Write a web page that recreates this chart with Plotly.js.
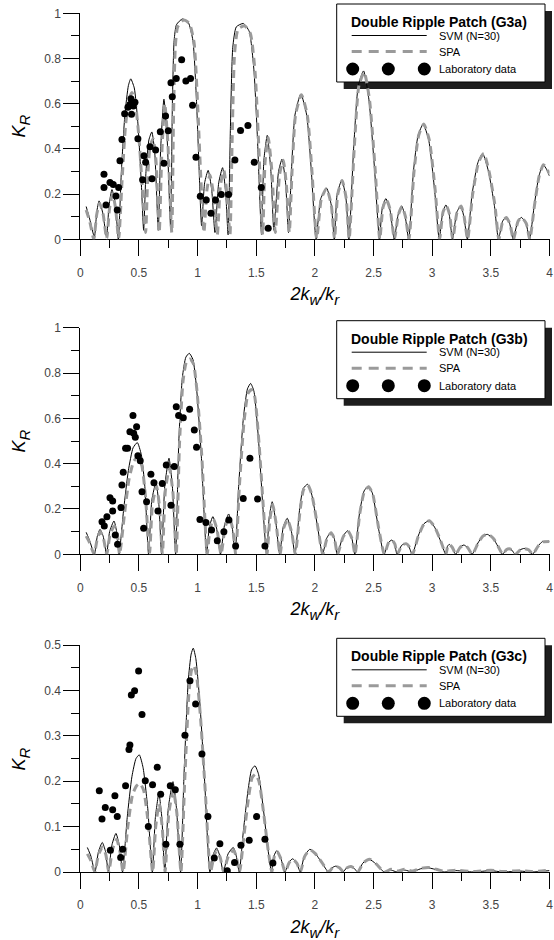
<!DOCTYPE html>
<html><head><meta charset="utf-8">
<script src="https://cdn.plot.ly/plotly-3.0.1.min.js"></script>
<style>
html,body{margin:0;padding:0;background:#fff}
#wrap{position:relative;width:554px;height:940px}
#chart{position:absolute;left:0;top:0;width:554px;height:940px}
#labels{position:absolute;left:0;top:0;width:554px;height:940px;pointer-events:none}
#labels span{position:absolute;white-space:nowrap;font-family:Arial,'Liberation Sans',sans-serif;color:#000;line-height:1}
</style>
</head><body><div id="wrap"><div id="chart"></div><div id="labels"></div></div>
<script>
// ---------- text ----------
const panelTitles = ["Double Ripple Patch (G3a)", "Double Ripple Patch (G3b)", "Double Ripple Patch (G3c)"];
const seriesNames = ["SVM (N=30)", "SPA", "Laboratory data"];
const xTitle = "<i>2k<sub>w</sub>/k<sub>r</sub></i>";
const yTitle = "<i>K<sub>R</sub></i>";

// ---------- panel (a) ----------
const svmA_x = [0.05,0.08,0.12,0.14,0.16,0.19,0.224,0.245,0.27,0.30,0.324,0.35,0.38,0.41,0.43,0.46,0.49,0.52,0.54,0.56,0.585,0.61,0.635,0.665,0.685,0.713,0.74,0.77,0.785,0.80,0.82,0.87,0.92,0.96,0.99,1.01,1.034,1.06,1.09,1.12,1.148,1.18,1.213,1.24,1.26,1.28,1.30,1.33,1.39,1.44,1.48,1.51,1.545,1.565,1.594,1.625,1.65,1.69,1.72,1.75,1.775,1.80,1.83,1.88,1.93,1.97,2.01,2.05,2.10,2.14,2.165,2.19,2.23,2.265,2.29,2.33,2.37,2.415,2.46,2.51,2.55,2.575,2.605,2.64,2.676,2.71,2.74,2.77,2.80,2.84,2.88,2.923,2.97,3.02,3.06,3.09,3.117,3.145,3.173,3.21,3.244,3.27,3.30,3.34,3.39,3.43,3.48,3.53,3.565,3.60,3.63,3.66,3.69,3.73,3.76,3.80,3.83,3.87,3.91,3.946,3.975,4.0];
const svmA_y = [0.145,0.09,0.01,0.12,0.17,0.12,0.01,0.15,0.22,0.15,0.0,0.30,0.55,0.68,0.71,0.67,0.52,0.25,0.04,0.30,0.44,0.475,0.38,0.04,0.40,0.62,0.45,0.05,0.60,0.88,0.95,0.975,0.96,0.88,0.62,0.35,0.06,0.25,0.305,0.22,0.03,0.25,0.317,0.20,0.02,0.50,0.85,0.94,0.955,0.92,0.75,0.45,0.02,0.35,0.46,0.30,0.04,0.30,0.355,0.25,0.03,0.30,0.55,0.643,0.55,0.30,0.0,0.18,0.226,0.15,0.0,0.20,0.263,0.18,0.0,0.40,0.68,0.745,0.62,0.30,0.0,0.14,0.18,0.13,0.0,0.11,0.147,0.10,0.0,0.30,0.46,0.51,0.44,0.22,0.0,0.12,0.152,0.11,0.0,0.12,0.148,0.10,0.0,0.20,0.34,0.38,0.30,0.15,0.0,0.08,0.097,0.07,0.0,0.08,0.097,0.07,0.0,0.15,0.28,0.33,0.31,0.28];
const spaA_x = [0.05,0.08,0.115,0.14,0.165,0.195,0.225,0.25,0.275,0.30,0.327,0.355,0.385,0.415,0.44,0.47,0.50,0.53,0.557,0.575,0.595,0.62,0.645,0.673,0.695,0.72,0.745,0.78,0.795,0.81,0.83,0.88,0.93,0.97,1.0,1.025,1.054,1.08,1.105,1.135,1.168,1.195,1.224,1.25,1.276,1.295,1.315,1.345,1.40,1.45,1.49,1.52,1.555,1.575,1.602,1.635,1.662,1.70,1.73,1.757,1.782,1.805,1.835,1.885,1.935,1.975,2.015,2.055,2.10,2.14,2.167,2.195,2.232,2.267,2.292,2.335,2.375,2.42,2.465,2.515,2.553,2.58,2.608,2.642,2.678,2.712,2.742,2.772,2.802,2.845,2.885,2.928,2.975,3.025,3.063,3.092,3.12,3.148,3.175,3.212,3.246,3.272,3.302,3.345,3.395,3.44,3.485,3.535,3.568,3.602,3.632,3.662,3.692,3.732,3.762,3.802,3.832,3.872,3.912,3.948,3.975,4.0];
const spaA_y = [0.13,0.08,0.0,0.11,0.16,0.11,0.0,0.14,0.20,0.14,0.0,0.25,0.50,0.62,0.65,0.60,0.45,0.22,0.03,0.28,0.41,0.445,0.35,0.03,0.38,0.60,0.44,0.03,0.55,0.85,0.94,0.97,0.955,0.87,0.60,0.30,0.03,0.22,0.285,0.20,0.02,0.24,0.305,0.20,0.02,0.45,0.82,0.93,0.945,0.91,0.74,0.43,0.02,0.34,0.45,0.29,0.03,0.29,0.35,0.24,0.03,0.30,0.55,0.64,0.55,0.30,0.0,0.18,0.225,0.15,0.0,0.20,0.26,0.18,0.0,0.40,0.68,0.74,0.62,0.30,0.0,0.14,0.178,0.13,0.0,0.11,0.145,0.10,0.0,0.30,0.46,0.51,0.44,0.22,0.0,0.12,0.15,0.11,0.0,0.12,0.147,0.10,0.0,0.20,0.34,0.38,0.30,0.15,0.0,0.08,0.096,0.07,0.0,0.08,0.096,0.07,0.0,0.15,0.28,0.33,0.315,0.29];
const labA_x = [0.202,0.202,0.219,0.253,0.281,0.304,0.315,0.327,0.338,0.355,0.378,0.406,0.423,0.432,0.437,0.452,0.466,0.491,0.531,0.543,0.557,0.594,0.611,0.642,0.682,0.713,0.727,0.75,0.773,0.784,0.818,0.864,0.90,0.94,0.957,0.986,1.023,1.074,1.114,1.153,1.202,1.264,1.318,1.366,1.429,1.483,1.543,1.602];
const labA_y = [0.288,0.229,0.152,0.251,0.243,0.192,0.13,0.229,0.348,0.442,0.555,0.584,0.596,0.622,0.553,0.59,0.606,0.445,0.263,0.37,0.341,0.41,0.268,0.395,0.476,0.336,0.546,0.48,0.693,0.631,0.712,0.794,0.70,0.711,0.593,0.363,0.19,0.174,0.115,0.174,0.198,0.198,0.351,0.481,0.503,0.341,0.229,0.049];

// ---------- panel (b) ----------
const svmB_x = [0.05,0.08,0.12,0.145,0.168,0.195,0.224,0.25,0.287,0.31,0.33,0.37,0.41,0.45,0.486,0.52,0.55,0.582,0.61,0.645,0.67,0.693,0.72,0.756,0.785,0.8125,0.84,0.87,0.90,0.929,0.96,0.99,1.03,1.077,1.10,1.13,1.16,1.195,1.23,1.265,1.295,1.32,1.35,1.39,1.425,1.452,1.48,1.52,1.555,1.588,1.61,1.636,1.665,1.70,1.73,1.764,1.80,1.83,1.87,1.90,1.9375,1.97,2.02,2.065,2.10,2.136,2.165,2.19,2.24,2.28,2.315,2.34,2.38,2.42,2.455,2.49,2.54,2.59,2.625,2.656,2.68,2.70,2.74,2.776,2.80,2.83,2.88,2.93,2.974,3.02,3.07,3.115,3.13,3.145,3.17,3.20,3.235,3.27,3.30,3.34,3.39,3.43,3.47,3.52,3.56,3.60,3.63,3.656,3.68,3.707,3.75,3.784,3.82,3.855,3.90,3.94,4.0];
const svmB_y = [0.097,0.06,0.0,0.08,0.11,0.08,0.0,0.10,0.147,0.10,0.0,0.20,0.37,0.47,0.493,0.44,0.30,0.0,0.24,0.316,0.22,0.0,0.30,0.424,0.30,0.0,0.50,0.78,0.87,0.887,0.86,0.74,0.45,0.0,0.12,0.166,0.12,0.0,0.13,0.178,0.12,0.0,0.30,0.60,0.73,0.754,0.72,0.50,0.22,0.0,0.16,0.232,0.15,0.0,0.12,0.159,0.10,0.0,0.20,0.29,0.309,0.27,0.13,0.0,0.07,0.097,0.07,0.0,0.08,0.104,0.07,0.0,0.18,0.28,0.30,0.27,0.12,0.0,0.05,0.063,0.045,0.0,0.04,0.048,0.035,0.0,0.08,0.135,0.148,0.12,0.06,0.0,0.035,0.044,0.03,0.0,0.03,0.041,0.03,0.0,0.05,0.08,0.088,0.07,0.035,0.0,0.02,0.025,0.018,0.0,0.02,0.026,0.02,0.0,0.035,0.056,0.056];
const spaB_x = [0.05,0.08,0.118,0.145,0.17,0.197,0.226,0.255,0.29,0.315,0.335,0.375,0.415,0.455,0.49,0.525,0.555,0.59,0.615,0.65,0.675,0.70,0.725,0.76,0.79,0.818,0.845,0.875,0.905,0.935,0.965,0.995,1.035,1.082,1.105,1.135,1.165,1.20,1.235,1.27,1.30,1.325,1.355,1.395,1.43,1.457,1.485,1.525,1.56,1.592,1.615,1.64,1.668,1.703,1.733,1.767,1.803,1.833,1.873,1.903,1.94,1.973,2.023,2.067,2.102,2.138,2.167,2.192,2.242,2.282,2.317,2.342,2.382,2.422,2.457,2.492,2.542,2.592,2.627,2.658,2.682,2.702,2.742,2.778,2.802,2.832,2.882,2.932,2.976,3.022,3.072,3.117,3.132,3.147,3.172,3.202,3.237,3.272,3.302,3.342,3.392,3.432,3.472,3.522,3.562,3.602,3.632,3.658,3.682,3.709,3.752,3.786,3.822,3.857,3.902,3.942,4.0];
const spaB_y = [0.08,0.05,0.0,0.07,0.10,0.07,0.0,0.09,0.125,0.09,0.0,0.17,0.33,0.41,0.43,0.39,0.26,0.0,0.22,0.30,0.21,0.0,0.28,0.38,0.27,0.0,0.48,0.76,0.85,0.862,0.84,0.72,0.44,0.0,0.11,0.155,0.11,0.0,0.12,0.165,0.11,0.0,0.29,0.58,0.71,0.727,0.70,0.48,0.21,0.0,0.15,0.22,0.14,0.0,0.115,0.152,0.095,0.0,0.19,0.285,0.305,0.265,0.125,0.0,0.068,0.095,0.068,0.0,0.078,0.102,0.068,0.0,0.178,0.278,0.298,0.268,0.12,0.0,0.05,0.062,0.045,0.0,0.04,0.047,0.035,0.0,0.08,0.135,0.148,0.12,0.06,0.0,0.035,0.043,0.03,0.0,0.03,0.04,0.03,0.0,0.05,0.08,0.09,0.07,0.035,0.0,0.02,0.024,0.018,0.0,0.02,0.025,0.02,0.0,0.035,0.055,0.057];
const labB_x = [0.185,0.2045,0.227,0.253,0.276,0.276,0.298,0.318,0.347,0.355,0.366,0.386,0.403,0.423,0.449,0.455,0.469,0.48,0.491,0.511,0.526,0.54,0.565,0.602,0.628,0.662,0.699,0.733,0.773,0.801,0.818,0.838,0.878,0.932,0.972,0.991,1.02,1.071,1.119,1.168,1.224,1.267,1.324,1.389,1.446,1.511,1.574];
const labB_y = [0.144,0.125,0.166,0.25,0.235,0.191,0.085,0.044,0.206,0.306,0.362,0.468,0.468,0.541,0.613,0.534,0.516,0.563,0.435,0.413,0.276,0.115,0.232,0.353,0.316,0.191,0.312,0.394,0.216,0.387,0.651,0.612,0.603,0.64,0.549,0.472,0.154,0.14,0.107,0.06,0.10,0.151,0.037,0.246,0.424,0.244,0.037];

// ---------- panel (c) ----------
const svmC_x = [0.06,0.09,0.125,0.155,0.1875,0.215,0.239,0.27,0.304,0.335,0.36,0.40,0.44,0.475,0.503,0.535,0.575,0.614,0.64,0.67,0.695,0.72,0.75,0.79,0.82,0.855,0.885,0.92,0.945,0.963,0.985,1.02,1.06,1.105,1.135,1.162,1.19,1.219,1.26,1.304,1.33,1.355,1.39,1.43,1.46,1.489,1.52,1.56,1.60,1.63,1.65,1.675,1.71,1.744,1.78,1.81,1.845,1.875,1.91,1.957,2.0,2.06,2.116,2.15,2.18,2.21,2.24,2.27,2.307,2.335,2.364,2.41,2.463,2.52,2.59,2.65,2.70,2.77,2.83,2.90,2.97,3.05,3.10,3.20,3.35,3.50,3.60,3.75,3.85,4.0];
const svmC_y = [0.054,0.035,0.0,0.045,0.065,0.045,0.0,0.06,0.085,0.055,0.0,0.12,0.21,0.25,0.258,0.23,0.14,0.0,0.12,0.173,0.12,0.0,0.14,0.199,0.14,0.0,0.22,0.42,0.48,0.493,0.47,0.37,0.20,0.0,0.04,0.053,0.035,0.0,0.04,0.054,0.035,0.0,0.09,0.18,0.225,0.234,0.215,0.14,0.05,0.0,0.035,0.047,0.03,0.0,0.022,0.029,0.02,0.0,0.035,0.05,0.042,0.02,0.0,0.01,0.013,0.009,0.0,0.009,0.012,0.008,0.0,0.02,0.028,0.018,0.0,0.004,0.0,0.004,0.0,0.007,0.009,0.004,0.0,0.003,0.0,0.003,0.0,0.002,0.0,0.003];
const spaC_x = [0.06,0.09,0.123,0.155,0.19,0.218,0.242,0.275,0.31,0.338,0.365,0.405,0.445,0.48,0.508,0.54,0.578,0.617,0.643,0.672,0.698,0.723,0.755,0.793,0.823,0.858,0.89,0.925,0.948,0.967,0.99,1.025,1.065,1.11,1.14,1.165,1.193,1.222,1.262,1.307,1.333,1.358,1.395,1.435,1.465,1.492,1.523,1.563,1.603,1.633,1.653,1.678,1.712,1.746,1.782,1.812,1.847,1.877,1.912,1.959,2.002,2.062,2.118,2.152,2.182,2.212,2.242,2.272,2.309,2.337,2.366,2.412,2.465,2.522,2.592,2.65,2.70,2.77,2.83,2.90,2.97,3.05,3.10,3.20,3.35,3.50,3.60,3.75,3.85,4.0];
const spaC_y = [0.04,0.025,0.0,0.038,0.055,0.038,0.0,0.05,0.072,0.045,0.0,0.10,0.17,0.19,0.195,0.18,0.11,0.0,0.10,0.15,0.10,0.0,0.13,0.18,0.13,0.0,0.20,0.39,0.445,0.455,0.435,0.34,0.18,0.0,0.035,0.048,0.032,0.0,0.035,0.048,0.03,0.0,0.08,0.165,0.208,0.215,0.20,0.13,0.045,0.0,0.033,0.045,0.028,0.0,0.021,0.028,0.019,0.0,0.034,0.049,0.041,0.02,0.0,0.01,0.012,0.009,0.0,0.009,0.012,0.008,0.0,0.02,0.028,0.018,0.0,0.006,0.002,0.006,0.002,0.008,0.01,0.005,0.002,0.004,0.001,0.004,0.001,0.003,0.001,0.004];
const labC_x = [0.162,0.185,0.213,0.256,0.276,0.295,0.315,0.344,0.361,0.386,0.415,0.423,0.435,0.463,0.497,0.526,0.554,0.58,0.616,0.656,0.685,0.73,0.767,0.81,0.849,0.892,0.935,0.983,1.037,1.088,1.142,1.19,1.253,1.315,1.369,1.44,1.503,1.574,1.642];
const labC_y = [0.179,0.117,0.142,0.048,0.137,0.168,0.122,0.032,0.05,0.19,0.27,0.28,0.39,0.399,0.443,0.347,0.201,0.10,0.192,0.231,0.171,0.061,0.19,0.181,0.061,0.301,0.421,0.37,0.26,0.122,0.031,0.062,0.003,0.021,0.059,0.07,0.122,0.072,0.02];

// ---------- layout geometry (pixels) ----------
const W = 554, H = 940;
const FONT = "Arial, 'Liberation Sans', sans-serif";
const PX = v => v / W;          // pixel x -> paper
const PY = v => 1 - v / H;      // pixel y (from top) -> paper
const plotLeft = 80.3, plotRight = 549.5;

const panels = [
  {svmX: svmA_x, svmY: svmA_y, spaX: spaA_x, spaY: spaA_y, labX: labA_x, labY: labA_y,
   yMax: 1, dtick: 0.2, minor: 0.1, top: 13.3, bottom: 239.3, boxTop: 4},
  {svmX: svmB_x, svmY: svmB_y, spaX: spaB_x, spaY: spaB_y, labX: labB_x, labY: labB_y,
   yMax: 1, dtick: 0.2, minor: 0.1, top: 327.7, bottom: 554.3, boxTop: 320.7},
  {svmX: svmC_x, svmY: svmC_y, spaX: spaC_x, spaY: spaC_y, labX: labC_x, labY: labC_y,
   yMax: 0.5, dtick: 0.1, minor: 0.05, top: 645, bottom: 872, boxTop: 638.3}
];

const traces = [];
const layout = {
  width: W, height: H,
  margin: {l: 0, r: 0, t: 0, b: 0, pad: 0},
  paper_bgcolor: '#ffffff', plot_bgcolor: 'rgba(0,0,0,0)',
  showlegend: false,
  font: {family: FONT, size: 12, color: '#000'},
  shapes: []
};

// HTML text labels (real text) placed over the figure
const labelsDiv = document.getElementById('labels');
function addLabel(html, x, y, size, anchor, bold, rotate) {
  const s = document.createElement('span');
  s.innerHTML = html;
  s.style.fontSize = size + 'px';
  if (bold) s.style.fontWeight = 'bold';
  s.style.left = x + 'px';
  s.style.top = y + 'px';
  let tf = anchor === 'center' ? 'translate(-50%,-50%)' : 'translate(0,-50%)';
  if (rotate) tf += ' rotate(-90deg)';
  s.style.transform = tf;
  labelsDiv.appendChild(s);
}

panels.forEach((p, i) => {
  const n = i + 1;
  const xa = 'x' + (n === 1 ? '' : n), ya = 'y' + (n === 1 ? '' : n);
  const xk = 'xaxis' + (n === 1 ? '' : n), yk = 'yaxis' + (n === 1 ? '' : n);
  traces.push({x: p.svmX, y: p.svmY, xaxis: xa, yaxis: ya, type: 'scatter', mode: 'lines',
    name: seriesNames[0], line: {color: '#000', width: 1, shape: 'spline', smoothing: 0.55}});
  traces.push({x: p.spaX, y: p.spaY, xaxis: xa, yaxis: ya, type: 'scatter', mode: 'lines',
    name: seriesNames[1], line: {color: '#9a9a9a', width: 3, dash: '8px,5px', shape: 'spline', smoothing: 0.55}});
  traces.push({x: p.labX, y: p.labY, xaxis: xa, yaxis: ya, type: 'scatter', mode: 'markers',
    name: seriesNames[2], marker: {color: '#000', size: 7}});

  layout[xk] = {
    domain: [PX(plotLeft), PX(plotRight)], anchor: ya, range: [0, 4],
    dtick: 0.5, tick0: 0, ticks: 'outside', ticklen: 16, tickwidth: 1, tickcolor: '#000',
    minor: {dtick: 0.25, ticks: 'outside', ticklen: 8, tickwidth: 1, tickcolor: '#000', showgrid: false},
    showline: true, linecolor: '#000', linewidth: 1, showgrid: false, zeroline: false,
    tickfont: {family: FONT, size: 12, color: '#444'}, ticklabelstandoff: 6,
    automargin: false, layer: 'below traces', fixedrange: true
  };
  layout[yk] = {
    domain: [PY(p.bottom), PY(p.top)], anchor: xa, range: [0, p.yMax],
    dtick: p.dtick, tick0: 0, ticks: 'outside', ticklen: 16, tickwidth: 1, tickcolor: '#000',
    minor: {dtick: p.minor, ticks: 'outside', ticklen: 8, tickwidth: 1, tickcolor: '#000', showgrid: false},
    showline: true, linecolor: '#000', linewidth: 1, showgrid: false, zeroline: false,
    tickfont: {family: FONT, size: 12, color: '#444'},
    automargin: false, layer: 'below traces', fixedrange: true
  };

  // axis titles
  addLabel(xTitle, (plotLeft + plotRight) / 2, p.bottom + 57, 18, 'center', false, false);
  addLabel(yTitle, 21, (p.top + p.bottom) / 2, 18, 'center', false, true);

  // legend box
  const bt = p.boxTop, bl = 336.7, br = 545, bh = 78, off = 7;
  layout.shapes.push({type: 'rect', xref: 'paper', yref: 'paper', layer: 'below',
    x0: PX(bl + off), x1: PX(br + off), y0: PY(bt + off), y1: PY(bt + bh + off),
    fillcolor: '#1e1e1e', line: {width: 0}});
  layout.shapes.push({type: 'rect', xref: 'paper', yref: 'paper', layer: 'below',
    x0: PX(bl), x1: PX(br), y0: PY(bt), y1: PY(bt + bh),
    fillcolor: '#ffffff', line: {color: '#000', width: 1}});
  layout.shapes.push({type: 'line', xref: 'paper', yref: 'paper', layer: 'below',
    x0: PX(351.7), x1: PX(426.7), y0: PY(bt + 31.5), y1: PY(bt + 31.5),
    line: {color: '#000', width: 1}});
  layout.shapes.push({type: 'line', xref: 'paper', yref: 'paper', layer: 'below',
    x0: PX(351.7), x1: PX(426.7), y0: PY(bt + 47.5), y1: PY(bt + 47.5),
    line: {color: '#9a9a9a', width: 3, dash: '10px,7px'}});
  [352.7, 388.3, 424.3].forEach(cx => {
    layout.shapes.push({type: 'circle', xref: 'paper', yref: 'paper', layer: 'below',
      x0: PX(cx - 6.5), x1: PX(cx + 6.5), y0: PY(bt + 65 - 6.5), y1: PY(bt + 65 + 6.5),
      fillcolor: '#000', line: {color: '#000', width: 0}});
  });
  addLabel(panelTitles[i], 351, bt + 18, 14, 'left', true, false);
  [31.5, 47.5, 65].forEach((dy, k) => addLabel(seriesNames[k], 439, bt + dy, 11, 'left', false, false));
});

Plotly.newPlot('chart', traces, layout, {staticPlot: true, displayModeBar: false});
</script>
</body></html>
